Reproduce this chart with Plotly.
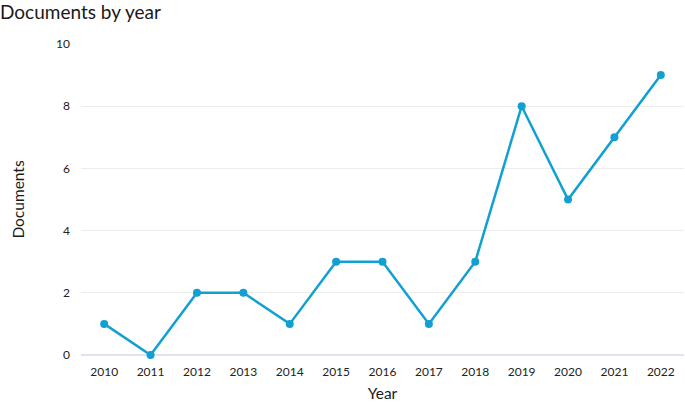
import plotly.graph_objects as go

years = ["2010", "2011", "2012", "2013", "2014", "2015", "2016", "2017", "2018", "2019", "2020", "2021", "2022"]
documents = [1, 0, 2, 2, 1, 3, 3, 1, 3, 8, 5, 7, 9]
y_ticks = [0, 2, 4, 6, 8, 10]

line_color = "#12a0d2"
font_family = "Lato, 'Open Sans', sans-serif"

fig = go.Figure()
fig.add_trace(go.Scatter(
    x=years, y=documents, mode="lines+markers",
    line=dict(color=line_color, width=2.5),
    marker=dict(color=line_color, size=8),
    cliponaxis=False, hoverinfo="skip", showlegend=False,
))

fig.update_layout(
    width=685, height=404,
    margin=dict(l=81, r=1, t=44, b=49),
    paper_bgcolor="white", plot_bgcolor="white",
    font=dict(family=font_family, color="#222222", size=12),
    title=dict(text="Documents by year", x=0.0, xref="container", xanchor="left",
               y=0.97, yanchor="middle", yref="container", pad=dict(l=0),
               font=dict(size=19, color="#1a1a1a", family=font_family)),
)

fig.update_xaxes(
    type="category", range=[-0.5, 12.5],
    showgrid=False, showline=False, zeroline=False,
    ticks="", ticklabelstandoff=8,
    tickfont=dict(size=12, color="#222222"),
    title=dict(text="Year", font=dict(size=15.5, color="#1a1a1a"), standoff=10),
)
fig.update_yaxes(
    range=[0, 10], tickvals=y_ticks,
    showgrid=True, gridcolor="#ececec", gridwidth=1,
    zeroline=True, zerolinecolor="#dfe2f4", zerolinewidth=1.5,
    showline=False, ticks="", ticklabelstandoff=10,
    tickfont=dict(size=12, color="#222222"),
    title=dict(text="Documents", font=dict(size=15.5, color="#1a1a1a"), standoff=27),
)

fig.write_html("out.html", config={"displayModeBar": False},
               post_script="document.body.style.margin='0';")
